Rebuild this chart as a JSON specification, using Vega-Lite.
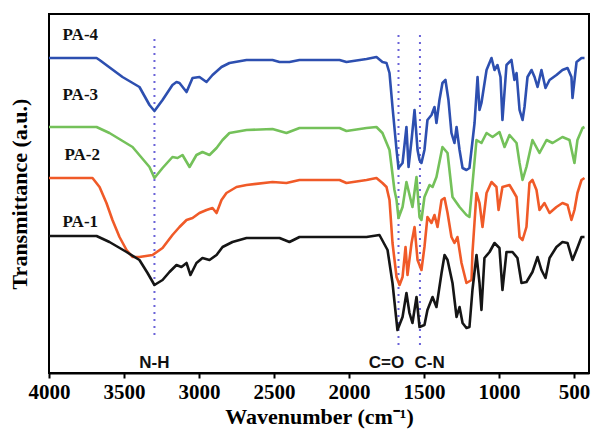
{
  "$schema": "https://vega.github.io/schema/vega-lite/v6.json",
  "width": 540,
  "height": 359,
  "autosize": "none",
  "padding": {"left": 49, "top": 14, "right": 3, "bottom": 64},
  "config": {
    "view": {"stroke": "#000", "strokeWidth": 2},
    "font": "Liberation Serif"
  },
  "datasets": {
    "spectra": [
      {"s":"PA-4","w":4000,"t":315},{"s":"PA-4","w":3683,"t":315},{"s":"PA-4","w":3663,"t":313},{"s":"PA-4","w":3510,"t":296},{"s":"PA-4","w":3397,"t":286},{"s":"PA-4","w":3330,"t":268},{"s":"PA-4","w":3297,"t":262},{"s":"PA-4","w":3243,"t":273},{"s":"PA-4","w":3177,"t":288},{"s":"PA-4","w":3150,"t":291},{"s":"PA-4","w":3130,"t":290},{"s":"PA-4","w":3083,"t":281},{"s":"PA-4","w":3043,"t":295},{"s":"PA-4","w":2997,"t":296},{"s":"PA-4","w":2950,"t":291},{"s":"PA-4","w":2910,"t":298},{"s":"PA-4","w":2850,"t":306},{"s":"PA-4","w":2797,"t":310},{"s":"PA-4","w":2683,"t":313},{"s":"PA-4","w":2510,"t":313},{"s":"PA-4","w":2463,"t":311},{"s":"PA-4","w":2397,"t":311},{"s":"PA-4","w":2330,"t":313},{"s":"PA-4","w":2063,"t":313},{"s":"PA-4","w":2017,"t":311},{"s":"PA-4","w":1883,"t":314},{"s":"PA-4","w":1817,"t":316},{"s":"PA-4","w":1777,"t":311},{"s":"PA-4","w":1750,"t":310},{"s":"PA-4","w":1730,"t":300},{"s":"PA-4","w":1710,"t":266},{"s":"PA-4","w":1683,"t":223},{"s":"PA-4","w":1670,"t":205},{"s":"PA-4","w":1643,"t":210},{"s":"PA-4","w":1617,"t":246},{"s":"PA-4","w":1603,"t":206},{"s":"PA-4","w":1583,"t":233},{"s":"PA-4","w":1563,"t":263},{"s":"PA-4","w":1543,"t":223},{"s":"PA-4","w":1530,"t":213},{"s":"PA-4","w":1517,"t":210},{"s":"PA-4","w":1497,"t":223},{"s":"PA-4","w":1477,"t":253},{"s":"PA-4","w":1450,"t":258},{"s":"PA-4","w":1430,"t":266},{"s":"PA-4","w":1417,"t":250},{"s":"PA-4","w":1397,"t":273},{"s":"PA-4","w":1377,"t":290},{"s":"PA-4","w":1357,"t":293},{"s":"PA-4","w":1337,"t":273},{"s":"PA-4","w":1317,"t":240},{"s":"PA-4","w":1297,"t":230},{"s":"PA-4","w":1283,"t":246},{"s":"PA-4","w":1263,"t":223},{"s":"PA-4","w":1243,"t":205},{"s":"PA-4","w":1217,"t":203},{"s":"PA-4","w":1197,"t":205},{"s":"PA-4","w":1163,"t":250},{"s":"PA-4","w":1143,"t":296},{"s":"PA-4","w":1130,"t":263},{"s":"PA-4","w":1117,"t":270},{"s":"PA-4","w":1083,"t":303},{"s":"PA-4","w":1050,"t":315},{"s":"PA-4","w":1030,"t":303},{"s":"PA-4","w":1010,"t":308},{"s":"PA-4","w":990,"t":296},{"s":"PA-4","w":977,"t":253},{"s":"PA-4","w":950,"t":308},{"s":"PA-4","w":917,"t":313},{"s":"PA-4","w":897,"t":293},{"s":"PA-4","w":883,"t":300},{"s":"PA-4","w":863,"t":263},{"s":"PA-4","w":843,"t":253},{"s":"PA-4","w":830,"t":266},{"s":"PA-4","w":810,"t":296},{"s":"PA-4","w":783,"t":303},{"s":"PA-4","w":763,"t":296},{"s":"PA-4","w":743,"t":286},{"s":"PA-4","w":717,"t":303},{"s":"PA-4","w":690,"t":285},{"s":"PA-4","w":663,"t":293},{"s":"PA-4","w":617,"t":298},{"s":"PA-4","w":577,"t":303},{"s":"PA-4","w":543,"t":305},{"s":"PA-4","w":517,"t":296},{"s":"PA-4","w":510,"t":275},{"s":"PA-4","w":483,"t":311},{"s":"PA-4","w":450,"t":315},{"s":"PA-4","w":430,"t":315},

      {"s":"PA-3","w":4000,"t":246},{"s":"PA-3","w":3683,"t":246},{"s":"PA-3","w":3597,"t":240},{"s":"PA-3","w":3443,"t":226},{"s":"PA-3","w":3330,"t":206},{"s":"PA-3","w":3297,"t":195},{"s":"PA-3","w":3243,"t":205},{"s":"PA-3","w":3177,"t":216},{"s":"PA-3","w":3143,"t":215},{"s":"PA-3","w":3110,"t":218},{"s":"PA-3","w":3063,"t":206},{"s":"PA-3","w":3017,"t":218},{"s":"PA-3","w":2977,"t":221},{"s":"PA-3","w":2930,"t":218},{"s":"PA-3","w":2883,"t":225},{"s":"PA-3","w":2843,"t":233},{"s":"PA-3","w":2797,"t":240},{"s":"PA-3","w":2683,"t":243},{"s":"PA-3","w":2510,"t":244},{"s":"PA-3","w":2417,"t":240},{"s":"PA-3","w":2330,"t":245},{"s":"PA-3","w":2063,"t":245},{"s":"PA-3","w":2017,"t":242},{"s":"PA-3","w":1883,"t":245},{"s":"PA-3","w":1817,"t":246},{"s":"PA-3","w":1777,"t":240},{"s":"PA-3","w":1730,"t":223},{"s":"PA-3","w":1697,"t":183},{"s":"PA-3","w":1683,"t":173},{"s":"PA-3","w":1670,"t":155},{"s":"PA-3","w":1643,"t":166},{"s":"PA-3","w":1617,"t":191},{"s":"PA-3","w":1577,"t":166},{"s":"PA-3","w":1550,"t":196},{"s":"PA-3","w":1530,"t":156},{"s":"PA-3","w":1517,"t":153},{"s":"PA-3","w":1497,"t":176},{"s":"PA-3","w":1463,"t":188},{"s":"PA-3","w":1443,"t":186},{"s":"PA-3","w":1417,"t":196},{"s":"PA-3","w":1377,"t":226},{"s":"PA-3","w":1343,"t":220},{"s":"PA-3","w":1310,"t":176},{"s":"PA-3","w":1263,"t":166},{"s":"PA-3","w":1217,"t":158},{"s":"PA-3","w":1197,"t":156},{"s":"PA-3","w":1150,"t":233},{"s":"PA-3","w":1117,"t":230},{"s":"PA-3","w":1083,"t":240},{"s":"PA-3","w":1043,"t":236},{"s":"PA-3","w":997,"t":241},{"s":"PA-3","w":963,"t":226},{"s":"PA-3","w":930,"t":238},{"s":"PA-3","w":883,"t":230},{"s":"PA-3","w":863,"t":210},{"s":"PA-3","w":843,"t":193},{"s":"PA-3","w":817,"t":206},{"s":"PA-3","w":777,"t":233},{"s":"PA-3","w":730,"t":220},{"s":"PA-3","w":683,"t":233},{"s":"PA-3","w":643,"t":230},{"s":"PA-3","w":577,"t":236},{"s":"PA-3","w":530,"t":233},{"s":"PA-3","w":497,"t":210},{"s":"PA-3","w":477,"t":233},{"s":"PA-3","w":443,"t":245},{"s":"PA-3","w":430,"t":246},

      {"s":"PA-2","w":4000,"t":195},{"s":"PA-2","w":3710,"t":195},{"s":"PA-2","w":3663,"t":186},{"s":"PA-2","w":3617,"t":170},{"s":"PA-2","w":3577,"t":153},{"s":"PA-2","w":3530,"t":136},{"s":"PA-2","w":3483,"t":123},{"s":"PA-2","w":3443,"t":116},{"s":"PA-2","w":3397,"t":116},{"s":"PA-2","w":3310,"t":118},{"s":"PA-2","w":3243,"t":125},{"s":"PA-2","w":3177,"t":138},{"s":"PA-2","w":3130,"t":146},{"s":"PA-2","w":3083,"t":153},{"s":"PA-2","w":3043,"t":155},{"s":"PA-2","w":2997,"t":160},{"s":"PA-2","w":2950,"t":163},{"s":"PA-2","w":2910,"t":165},{"s":"PA-2","w":2883,"t":160},{"s":"PA-2","w":2850,"t":173},{"s":"PA-2","w":2817,"t":180},{"s":"PA-2","w":2750,"t":186},{"s":"PA-2","w":2683,"t":188},{"s":"PA-2","w":2510,"t":191},{"s":"PA-2","w":2417,"t":190},{"s":"PA-2","w":2330,"t":193},{"s":"PA-2","w":2063,"t":193},{"s":"PA-2","w":2017,"t":190},{"s":"PA-2","w":1883,"t":193},{"s":"PA-2","w":1817,"t":195},{"s":"PA-2","w":1777,"t":190},{"s":"PA-2","w":1750,"t":186},{"s":"PA-2","w":1730,"t":173},{"s":"PA-2","w":1710,"t":130},{"s":"PA-2","w":1683,"t":96},{"s":"PA-2","w":1663,"t":88},{"s":"PA-2","w":1643,"t":96},{"s":"PA-2","w":1623,"t":126},{"s":"PA-2","w":1610,"t":98},{"s":"PA-2","w":1583,"t":130},{"s":"PA-2","w":1563,"t":146},{"s":"PA-2","w":1543,"t":113},{"s":"PA-2","w":1517,"t":103},{"s":"PA-2","w":1497,"t":126},{"s":"PA-2","w":1477,"t":156},{"s":"PA-2","w":1450,"t":150},{"s":"PA-2","w":1430,"t":158},{"s":"PA-2","w":1410,"t":146},{"s":"PA-2","w":1383,"t":173},{"s":"PA-2","w":1363,"t":175},{"s":"PA-2","w":1343,"t":160},{"s":"PA-2","w":1317,"t":136},{"s":"PA-2","w":1297,"t":130},{"s":"PA-2","w":1277,"t":136},{"s":"PA-2","w":1250,"t":110},{"s":"PA-2","w":1217,"t":90},{"s":"PA-2","w":1183,"t":93},{"s":"PA-2","w":1177,"t":120},{"s":"PA-2","w":1150,"t":180},{"s":"PA-2","w":1130,"t":170},{"s":"PA-2","w":1110,"t":146},{"s":"PA-2","w":1083,"t":180},{"s":"PA-2","w":1050,"t":191},{"s":"PA-2","w":1017,"t":186},{"s":"PA-2","w":1003,"t":163},{"s":"PA-2","w":977,"t":186},{"s":"PA-2","w":930,"t":188},{"s":"PA-2","w":910,"t":183},{"s":"PA-2","w":883,"t":176},{"s":"PA-2","w":863,"t":136},{"s":"PA-2","w":843,"t":133},{"s":"PA-2","w":817,"t":146},{"s":"PA-2","w":797,"t":190},{"s":"PA-2","w":777,"t":193},{"s":"PA-2","w":750,"t":183},{"s":"PA-2","w":730,"t":163},{"s":"PA-2","w":697,"t":170},{"s":"PA-2","w":663,"t":160},{"s":"PA-2","w":617,"t":166},{"s":"PA-2","w":577,"t":170},{"s":"PA-2","w":543,"t":168},{"s":"PA-2","w":517,"t":153},{"s":"PA-2","w":497,"t":163},{"s":"PA-2","w":477,"t":180},{"s":"PA-2","w":450,"t":193},{"s":"PA-2","w":430,"t":195},

      {"s":"PA-1","w":4000,"t":137},{"s":"PA-1","w":3683,"t":137},{"s":"PA-1","w":3597,"t":131},{"s":"PA-1","w":3483,"t":121},{"s":"PA-1","w":3397,"t":113},{"s":"PA-1","w":3343,"t":100},{"s":"PA-1","w":3297,"t":88},{"s":"PA-1","w":3243,"t":93},{"s":"PA-1","w":3197,"t":101},{"s":"PA-1","w":3150,"t":108},{"s":"PA-1","w":3117,"t":106},{"s":"PA-1","w":3083,"t":110},{"s":"PA-1","w":3057,"t":98},{"s":"PA-1","w":3017,"t":110},{"s":"PA-1","w":2977,"t":115},{"s":"PA-1","w":2930,"t":113},{"s":"PA-1","w":2883,"t":118},{"s":"PA-1","w":2843,"t":126},{"s":"PA-1","w":2777,"t":131},{"s":"PA-1","w":2683,"t":135},{"s":"PA-1","w":2550,"t":135},{"s":"PA-1","w":2463,"t":135},{"s":"PA-1","w":2397,"t":131},{"s":"PA-1","w":2330,"t":136},{"s":"PA-1","w":1883,"t":136},{"s":"PA-1","w":1797,"t":138},{"s":"PA-1","w":1743,"t":123},{"s":"PA-1","w":1710,"t":90},{"s":"PA-1","w":1677,"t":43},{"s":"PA-1","w":1643,"t":56},{"s":"PA-1","w":1617,"t":80},{"s":"PA-1","w":1597,"t":60},{"s":"PA-1","w":1577,"t":50},{"s":"PA-1","w":1550,"t":76},{"s":"PA-1","w":1530,"t":46},{"s":"PA-1","w":1497,"t":48},{"s":"PA-1","w":1477,"t":63},{"s":"PA-1","w":1443,"t":76},{"s":"PA-1","w":1417,"t":66},{"s":"PA-1","w":1383,"t":100},{"s":"PA-1","w":1363,"t":118},{"s":"PA-1","w":1343,"t":113},{"s":"PA-1","w":1310,"t":90},{"s":"PA-1","w":1283,"t":56},{"s":"PA-1","w":1263,"t":66},{"s":"PA-1","w":1243,"t":50},{"s":"PA-1","w":1217,"t":45},{"s":"PA-1","w":1197,"t":46},{"s":"PA-1","w":1177,"t":83},{"s":"PA-1","w":1150,"t":118},{"s":"PA-1","w":1130,"t":90},{"s":"PA-1","w":1117,"t":63},{"s":"PA-1","w":1097,"t":115},{"s":"PA-1","w":1063,"t":121},{"s":"PA-1","w":1030,"t":130},{"s":"PA-1","w":997,"t":125},{"s":"PA-1","w":977,"t":83},{"s":"PA-1","w":950,"t":121},{"s":"PA-1","w":910,"t":121},{"s":"PA-1","w":877,"t":115},{"s":"PA-1","w":850,"t":90},{"s":"PA-1","w":817,"t":91},{"s":"PA-1","w":777,"t":101},{"s":"PA-1","w":743,"t":116},{"s":"PA-1","w":717,"t":103},{"s":"PA-1","w":690,"t":95},{"s":"PA-1","w":663,"t":115},{"s":"PA-1","w":617,"t":126},{"s":"PA-1","w":577,"t":131},{"s":"PA-1","w":543,"t":130},{"s":"PA-1","w":510,"t":113},{"s":"PA-1","w":483,"t":123},{"s":"PA-1","w":450,"t":136},{"s":"PA-1","w":430,"t":136}
    ],
    "markers": [
      {"w":3297,"t1":38,"t2":335},
      {"w":1670,"t1":28,"t2":343},
      {"w":1527,"t1":28,"t2":343}
    ],
    "names": [
      {"w":3910,"t":338,"label":"PA-4"},
      {"w":3910,"t":278,"label":"PA-3"},
      {"w":3897,"t":218,"label":"PA-2"},
      {"w":3910,"t":151,"label":"PA-1"}
    ],
    "bands": [
      {"w":3297,"t":10,"label":"N-H"},
      {"w":1750,"t":10,"label":"C=O"},
      {"w":1463,"t":10,"label":"C-N"}
    ]
  },
  "layer": [
    {
      "data": {"name": "markers"},
      "mark": {"type": "rule", "color": "#6a63d8", "strokeWidth": 2, "strokeDash": [2, 5]},
      "encoding": {
        "x": {"field": "w", "type": "quantitative", "scale": {"domain": [400, 4000], "reverse": true, "nice": false, "zero": false}},
        "y": {"field": "t1", "type": "quantitative", "scale": {"domain": [0, 359], "nice": false}},
        "y2": {"field": "t2"}
      }
    },
    {
      "data": {"name": "spectra"},
      "mark": {"type": "line", "strokeWidth": 2.6, "strokeJoin": "round"},
      "encoding": {
        "x": {"field": "w", "type": "quantitative",
          "scale": {"domain": [400, 4000], "reverse": true, "nice": false, "zero": false},
          "axis": {
            "values": [4000,3750,3500,3250,3000,2750,2500,2250,2000,1750,1500,1250,1000,750,500],
            "labelExpr": "datum.value % 500 === 0 ? datum.label : ''",
            "format": "d",
            "grid": false,
            "domainColor": "#000", "domainWidth": 2,
            "tickColor": "#000", "tickWidth": 2, "tickSize": 5,
            "labelFont": "Liberation Serif", "labelFontWeight": "bold", "labelFontSize": 21, "labelColor": "#000",
            "labelPadding": 3, "labelFlush": false, "labelOverlap": false,
            "title": "Wavenumber (cm⁻¹)",
            "titleFont": "Liberation Serif", "titleFontWeight": "bold", "titleFontSize": 22, "titleColor": "#000",
            "titlePadding": 4
          }
        },
        "y": {"field": "t", "type": "quantitative",
          "scale": {"domain": [0, 359], "nice": false},
          "axis": {
            "domain": false, "ticks": false, "labels": false, "grid": false,
            "title": "Transmittance (a.u.)",
            "titleFont": "Liberation Serif", "titleFontWeight": "bold", "titleFontSize": 22, "titleColor": "#000",
            "titlePadding": 18
          }
        },
        "color": {"field": "s", "type": "nominal",
          "scale": {"domain": ["PA-4","PA-3","PA-2","PA-1"], "range": ["#2d4fb0","#74c15a","#f05a28","#151515"]},
          "legend": null
        },
        "detail": {"field": "s"}
      }
    },
    {
      "data": {"name": "names"},
      "mark": {"type": "text", "align": "left", "baseline": "middle", "font": "Liberation Serif", "fontWeight": "bold", "fontSize": 17, "color": "#111"},
      "encoding": {
        "x": {"field": "w", "type": "quantitative"},
        "y": {"field": "t", "type": "quantitative"},
        "text": {"field": "label"}
      }
    },
    {
      "data": {"name": "bands"},
      "mark": {"type": "text", "align": "center", "baseline": "middle", "font": "Liberation Sans", "fontWeight": "bold", "fontSize": 17, "color": "#111"},
      "encoding": {
        "x": {"field": "w", "type": "quantitative"},
        "y": {"field": "t", "type": "quantitative"},
        "text": {"field": "label"}
      }
    }
  ]
}
